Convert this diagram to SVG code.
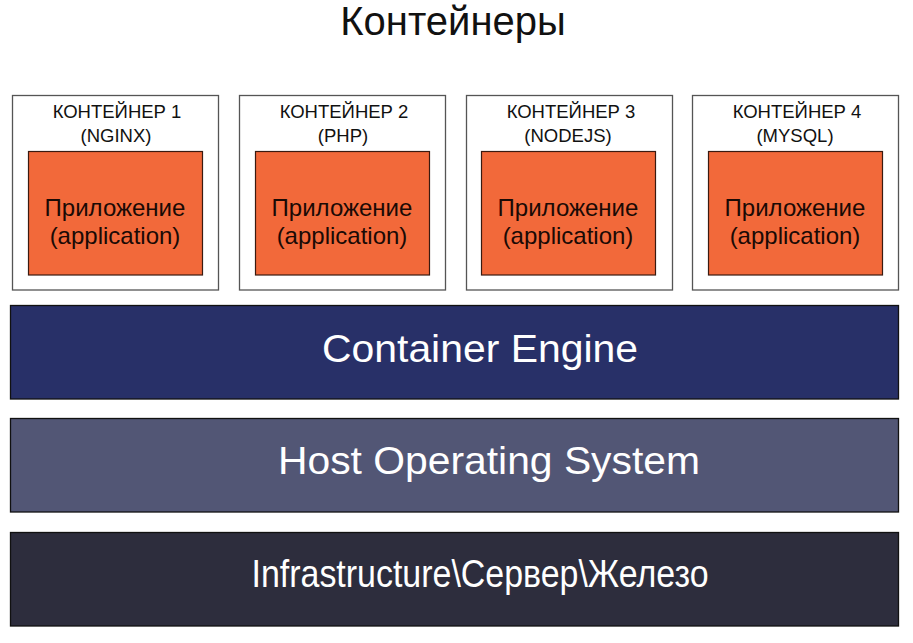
<svg xmlns="http://www.w3.org/2000/svg" width="913" height="643" viewBox="0 0 913 643">
<style>
text{font-family:"Liberation Sans",Arial,sans-serif;text-anchor:middle}
.box{fill:#fff;stroke:#555;stroke-width:1.3}
.app{fill:#f2693a;stroke:#3a1a10;stroke-width:1.2}
.lbl{font-size:18.5px;fill:#111}
.appt{font-size:24px;fill:#1a0a05}
.bar{stroke:#111;stroke-width:1.3}
.bt{fill:#fff;font-size:39px}
</style>
<rect width="913" height="643" fill="#fff"/>
<text x="453" y="35" font-size="40" fill="#111">Контейнеры</text>
<g id="c1">
<rect class="box" x="12.5" y="95.5" width="206" height="194.5"/>
<text class="lbl" x="117" y="117.5">КОНТЕЙНЕР 1</text>
<text class="lbl" x="116" y="142">(NGINX)</text>
<rect class="app" x="28.5" y="151.5" width="174" height="123.5"/>
<text class="appt" x="115" y="216">Приложение</text>
<text class="appt" x="115" y="244">(application)</text>
</g>
<g id="c2">
<rect class="box" x="239.5" y="95.5" width="206" height="194.5"/>
<text class="lbl" x="344" y="117.5">КОНТЕЙНЕР 2</text>
<text class="lbl" x="343" y="142">(PHP)</text>
<rect class="app" x="255.5" y="151.5" width="174" height="123.5"/>
<text class="appt" x="342" y="216">Приложение</text>
<text class="appt" x="342" y="244">(application)</text>
</g>
<g id="c3">
<rect class="box" x="466.5" y="95.5" width="206" height="194.5"/>
<text class="lbl" x="571" y="117.5">КОНТЕЙНЕР 3</text>
<text class="lbl" x="568" y="142">(NODEJS)</text>
<rect class="app" x="481.5" y="151.5" width="174" height="123.5"/>
<text class="appt" x="568" y="216">Приложение</text>
<text class="appt" x="568" y="244">(application)</text>
</g>
<g id="c4">
<rect class="box" x="692.5" y="95.5" width="206" height="194.5"/>
<text class="lbl" x="797" y="117.5">КОНТЕЙНЕР 4</text>
<text class="lbl" x="795" y="142">(MYSQL)</text>
<rect class="app" x="708.5" y="151.5" width="174" height="123.5"/>
<text class="appt" x="795" y="216">Приложение</text>
<text class="appt" x="795" y="244">(application)</text>
</g>
<g id="engine">
<rect class="bar" x="10.5" y="305.5" width="888" height="93.5" fill="#283068"/>
<text class="bt" x="480" y="362" textLength="316" lengthAdjust="spacingAndGlyphs">Container Engine</text>
</g>
<g id="hostos">
<rect class="bar" x="10.5" y="418.5" width="888" height="93.5" fill="#525675"/>
<text class="bt" x="489" y="474" textLength="422" lengthAdjust="spacingAndGlyphs">Host Operating System</text>
</g>
<g id="infra">
<rect class="bar" x="10.5" y="532.5" width="888" height="93.5" fill="#2d2d3d"/>
<text class="bt" x="480" y="587" font-size="31" textLength="457" lengthAdjust="spacingAndGlyphs">Infrastructure\Сервер\Железо</text>
</g>
<g id="connectors"/>
</svg>
